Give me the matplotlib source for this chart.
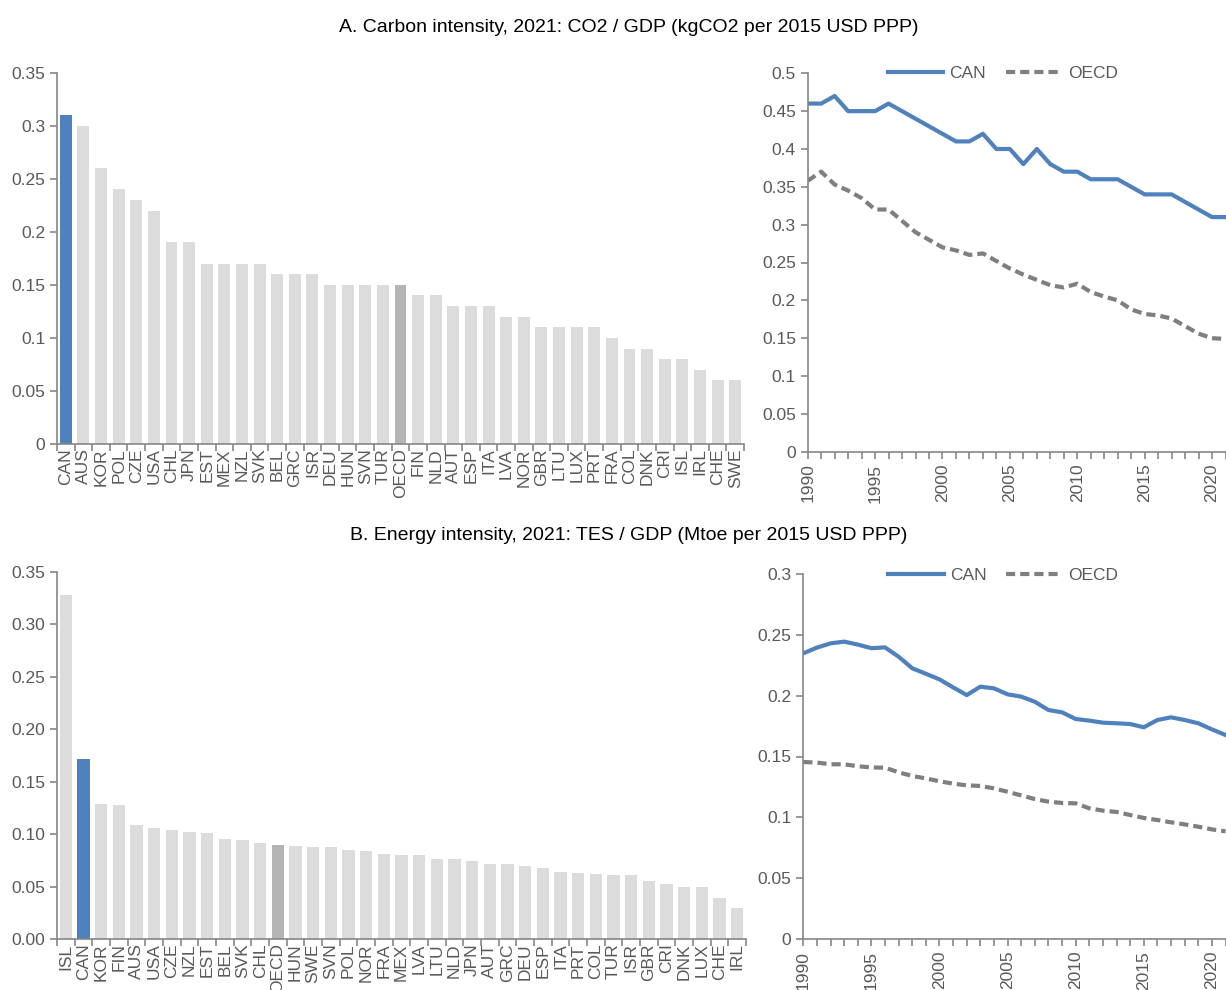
import numpy as np
import matplotlib
matplotlib.use("Agg")
import matplotlib.pyplot as plt

plt.rcParams['font.family'] = ['Liberation Sans Narrow', 'Liberation Sans', 'DejaVu Sans']

# Panel A: carbon intensity, 2021
co2_countries = ['CAN', 'AUS', 'KOR', 'POL', 'CZE', 'USA', 'CHL', 'JPN', 'EST', 'MEX',
                 'NZL', 'SVK', 'BEL', 'GRC', 'ISR', 'DEU', 'HUN', 'SVN', 'TUR', 'OECD',
                 'FIN', 'NLD', 'AUT', 'ESP', 'ITA', 'LVA', 'NOR', 'GBR', 'LTU', 'LUX',
                 'PRT', 'FRA', 'COL', 'DNK', 'CRI', 'ISL', 'IRL', 'CHE', 'SWE']
co2_values = [0.31, 0.30, 0.26, 0.24, 0.23, 0.22, 0.19, 0.19, 0.17, 0.17,
              0.17, 0.17, 0.16, 0.16, 0.16, 0.15, 0.15, 0.15, 0.15, 0.15,
              0.14, 0.14, 0.13, 0.13, 0.13, 0.12, 0.12, 0.11, 0.11, 0.11,
              0.11, 0.10, 0.09, 0.09, 0.08, 0.08, 0.07, 0.06, 0.06]

years = list(range(1990, 2022))
co2_can = [0.46, 0.46, 0.47, 0.45, 0.45, 0.45, 0.46, 0.45, 0.44, 0.43,
           0.42, 0.41, 0.41, 0.42, 0.40, 0.40, 0.38, 0.40, 0.38, 0.37,
           0.37, 0.36, 0.36, 0.36, 0.35, 0.34, 0.34, 0.34, 0.33, 0.32,
           0.31, 0.31]
co2_oecd = [0.358, 0.370, 0.353, 0.345, 0.335, 0.320, 0.320, 0.305, 0.290, 0.280,
            0.270, 0.266, 0.260, 0.262, 0.252, 0.242, 0.234, 0.227, 0.220, 0.217,
            0.222, 0.211, 0.205, 0.200, 0.188, 0.182, 0.180, 0.176, 0.166, 0.156,
            0.150, 0.149]

# Panel B: energy intensity, 2021
tes_countries = ['ISL', 'CAN', 'KOR', 'FIN', 'AUS', 'USA', 'CZE', 'NZL', 'EST', 'BEL',
                 'SVK', 'CHL', 'OECD', 'HUN', 'SWE', 'SVN', 'POL', 'NOR', 'FRA', 'MEX',
                 'LVA', 'LTU', 'NLD', 'JPN', 'AUT', 'GRC', 'DEU', 'ESP', 'ITA', 'PRT',
                 'COL', 'TUR', 'ISR', 'GBR', 'CRI', 'DNK', 'LUX', 'CHE', 'IRL']
tes_values = [0.328, 0.172, 0.1285, 0.128, 0.109, 0.1057, 0.104, 0.1025, 0.1015, 0.0955,
              0.0946, 0.0917, 0.0895, 0.0888, 0.0879, 0.0876, 0.0854, 0.0841, 0.0812, 0.0806,
              0.0803, 0.0765, 0.0765, 0.0746, 0.0717, 0.0714, 0.0698, 0.0676, 0.0641, 0.0635,
              0.0622, 0.0612, 0.0612, 0.0555, 0.0527, 0.0498, 0.0498, 0.0397, 0.0295]

tes_can = [0.2348, 0.2395, 0.243, 0.2444, 0.242, 0.239, 0.2397, 0.232, 0.2225, 0.218,
           0.2134, 0.2068, 0.2005, 0.2074, 0.206, 0.2011, 0.1992, 0.195, 0.1882, 0.1863,
           0.1808, 0.1795, 0.1778, 0.1773, 0.1767, 0.174, 0.180, 0.1822, 0.180, 0.1773,
           0.1723, 0.1677]
tes_oecd = [0.1455, 0.145, 0.1436, 0.1436, 0.142, 0.141, 0.1408, 0.137, 0.134, 0.132,
            0.1296, 0.1277, 0.1263, 0.1258, 0.1238, 0.121, 0.118, 0.115, 0.1129, 0.1118,
            0.1115, 0.1074, 0.1055, 0.1044, 0.1019, 0.0995, 0.0978, 0.0959, 0.0942, 0.0923,
            0.0901, 0.0885]

BLUE = '#4f81bd'
LIGHT = '#dcdcdc'
MID = '#b4b4b4'
AXIS = '#868686'
TXT = '#595959'
FS = 12.5

W, H = 1226, 990
fig = plt.figure(figsize=(W / 100, H / 100), dpi=100)


def px_axes(x0, y0, x1, y1):
    return fig.add_axes([x0 / W, 1 - y1 / H, (x1 - x0) / W, (y1 - y0) / H])


def style(ax):
    for s in ['top', 'right']:
        ax.spines[s].set_visible(False)
    for s in ['left', 'bottom']:
        ax.spines[s].set_color(AXIS)
        ax.spines[s].set_linewidth(1.2)
    ax.tick_params(which='both', colors=AXIS, labelcolor=TXT, labelsize=FS,
                   direction='out', length=5, width=1.2)


def bar_panel(ax, names, values, ymax, fmt):
    x = np.arange(len(names))
    colors = [BLUE if n == 'CAN' else MID if n == 'OECD' else LIGHT for n in names]
    ax.bar(x, values, width=0.68, color=colors)
    ax.set_xlim(-0.5, len(names) - 0.5)
    ax.set_ylim(0, ymax)
    ax.set_yticks(np.arange(0, ymax + 1e-9, 0.05))
    ax.yaxis.set_major_formatter(fmt)
    style(ax)
    ax.set_xticks(x)
    ax.set_xticklabels(names, rotation=90)
    ax.tick_params(axis='x', which='major', length=0, pad=3)
    ax.set_xticks(np.arange(-0.5, len(names)), minor=True)


def line_panel(ax, can, oecd, ymax, step, anchor):
    ax.plot(years, can, color=BLUE, lw=3, label='CAN')
    ax.plot(years, oecd, color='#7f7f7f', lw=3, ls=(0, (2.2, 1.2)), label='OECD')
    ax.set_xlim(1990, 2021)
    ax.set_ylim(0, ymax)
    ax.set_yticks(np.arange(0, ymax + 1e-9, step))
    ax.yaxis.set_major_formatter(matplotlib.ticker.FormatStrFormatter('%g'))
    style(ax)
    ax.set_xticks(range(1990, 2022, 5))
    ax.set_xticks(years, minor=True)
    ax.tick_params(axis='x', labelrotation=90)
    leg = ax.legend(loc='upper center', bbox_to_anchor=(anchor, 1.06), ncol=2, frameon=False,
                    fontsize=FS, handlelength=3.2, columnspacing=1.15, handletextpad=0.35)
    for t in leg.get_texts():
        t.set_color(TXT)


g = matplotlib.ticker.FormatStrFormatter('%g')
f2 = matplotlib.ticker.FormatStrFormatter('%.2f')

ax1 = px_axes(57, 72.7, 744, 444)
bar_panel(ax1, co2_countries, co2_values, 0.35, g)
ax2 = px_axes(807.7, 73.3, 1225.5, 451.7)
line_panel(ax2, co2_can, co2_oecd, 0.5, 0.05, 0.467)

ax3 = px_axes(57, 571.7, 746, 939.3)
bar_panel(ax3, tes_countries, tes_values, 0.35, f2)
ax4 = px_axes(803.3, 574, 1225.5, 939)
line_panel(ax4, tes_can, tes_oecd, 0.3, 0.05, 0.473)

fig.text(629 / W, 1 - 28 / H, 'A. Carbon intensity, 2021: CO2 / GDP (kgCO2 per 2015 USD PPP)',
         ha='center', va='center', fontsize=14, color='black')
fig.text(629 / W, 1 - 535 / H, 'B. Energy intensity, 2021: TES / GDP (Mtoe per 2015 USD PPP)',
         ha='center', va='center', fontsize=14, color='black')

fig.savefig('out.png', dpi=100)
